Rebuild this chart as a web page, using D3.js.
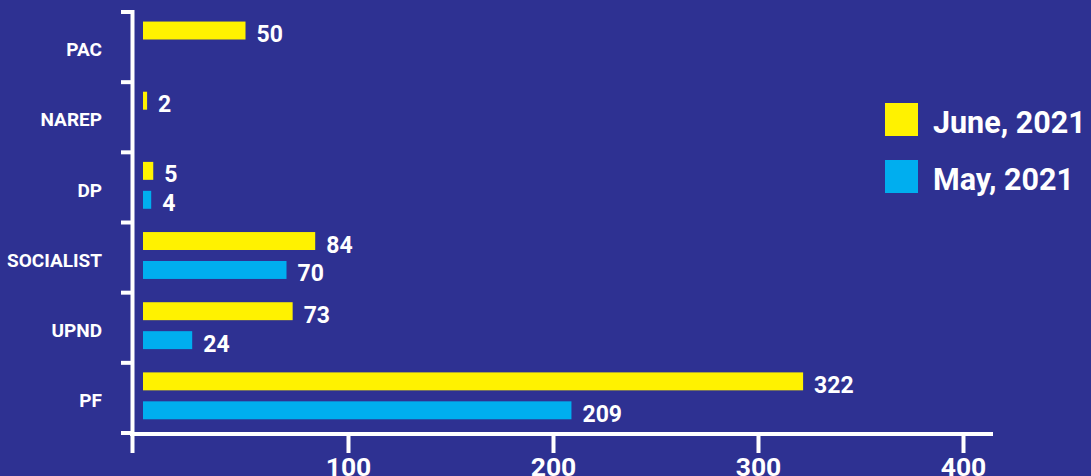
<!DOCTYPE html>
<html>
<head>
<meta charset="utf-8">
<script src="https://cdn.jsdelivr.net/npm/d3@7/dist/d3.min.js"></script>
<style>
  html, body { margin: 0; padding: 0; background: #2e3192; }
  svg { display: block; }
  text { font-family: Roboto, "Noto Sans", sans-serif; font-weight: 700; fill: #ffffff; }
</style>
</head>
<body>
<svg id="chart" width="1091" height="476"></svg>
<script>
const categories = ["PAC", "NAREP", "DP", "SOCIALIST", "UPND", "PF"];
const juneValues = [50, 2, 5, 84, 73, 322];
const mayValues = [null, null, 4, 70, 24, 209];
const seriesKeys = ["june", "may"];
const seriesLabels = ["June, 2021", "May, 2021"];
const seriesColors = ["#fff200", "#00aeef"];
const xTicks = [100, 200, 300, 400];

const svg = d3.select("#chart");
svg.append("rect").attr("width", 1091).attr("height", 476).attr("fill", "#2e3192");

const x = d3.scaleLinear().domain([0, 400]).range([143, 963]);
const y0 = d3.scaleBand().domain(categories).range([12, 433]);
const y1 = d3.scaleBand().domain(seriesKeys).range([0, 66]).paddingInner(0.38).paddingOuter(0.33);
const color = d3.scaleOrdinal().domain(seriesKeys).range(seriesColors);

const rows = categories.map((c, i) => ({
  cat: c,
  values: [
    { key: "june", value: juneValues[i] },
    { key: "may", value: mayValues[i] }
  ].filter(d => d.value != null)
}));

// bars
const groups = svg.append("g").selectAll("g").data(rows).join("g")
  .attr("transform", d => `translate(0,${y0(d.cat)})`);

groups.selectAll("rect").data(d => d.values).join("rect")
  .attr("x", x(0))
  .attr("y", d => y1(d.key))
  .attr("width", d => x(d.value) - x(0))
  .attr("height", y1.bandwidth())
  .attr("fill", d => color(d.key));

groups.selectAll("text").data(d => d.values).join("text")
  .attr("x", d => x(d.value) + 11)
  .attr("y", d => y1(d.key) + y1.bandwidth() / 2 + 11.5)
  .attr("font-size", 23)
  .text(d => d.value);

// y axis line
svg.append("line")
  .attr("x1", 132.5).attr("x2", 132.5)
  .attr("y1", 10).attr("y2", 453)
  .attr("stroke", "#fff").attr("stroke-width", 4);

// y boundary ticks
const boundaries = categories.map(c => y0(c)).concat([y0.range()[1]]);
svg.append("g").selectAll("line").data(boundaries).join("line")
  .attr("x1", 121).attr("x2", 133)
  .attr("y1", d => d).attr("y2", d => d)
  .attr("stroke", "#fff").attr("stroke-width", 4);

// y category labels
const yAxis = d3.axisLeft(y0).tickSize(0).tickPadding(0);
const yg = svg.append("g").attr("transform", "translate(102,3)").call(yAxis);
yg.select(".domain").remove();
yg.selectAll("text").attr("font-size", 19).style("font-family", "Roboto, sans-serif").style("font-weight", 700).attr("fill", "#fff");

// x axis
svg.append("line")
  .attr("x1", 130).attr("x2", 993)
  .attr("y1", 434).attr("y2", 434)
  .attr("stroke", "#fff").attr("stroke-width", 4);

const xAxis = d3.axisBottom(x).tickValues(xTicks).tickSize(19).tickPadding(4).tickSizeOuter(0);
const xg = svg.append("g").attr("transform", "translate(0,434)").call(xAxis);
xg.select(".domain").remove();
xg.selectAll(".tick line").attr("stroke", "#fff").attr("stroke-width", 4);
xg.selectAll(".tick text").attr("font-size", 26.5).style("font-family", "Roboto, sans-serif").style("font-weight", 700).attr("fill", "#fff");

// legend
const legend = svg.append("g").selectAll("g").data(seriesKeys).join("g")
  .attr("transform", (d, i) => `translate(885,${103 + i * 57})`);
legend.append("rect").attr("width", 33).attr("height", 33).attr("fill", d => color(d));
legend.append("text").attr("x", 48).attr("y", 30).attr("font-size", 30.5)
  .text((d, i) => seriesLabels[i]);
</script>
</body>
</html>
